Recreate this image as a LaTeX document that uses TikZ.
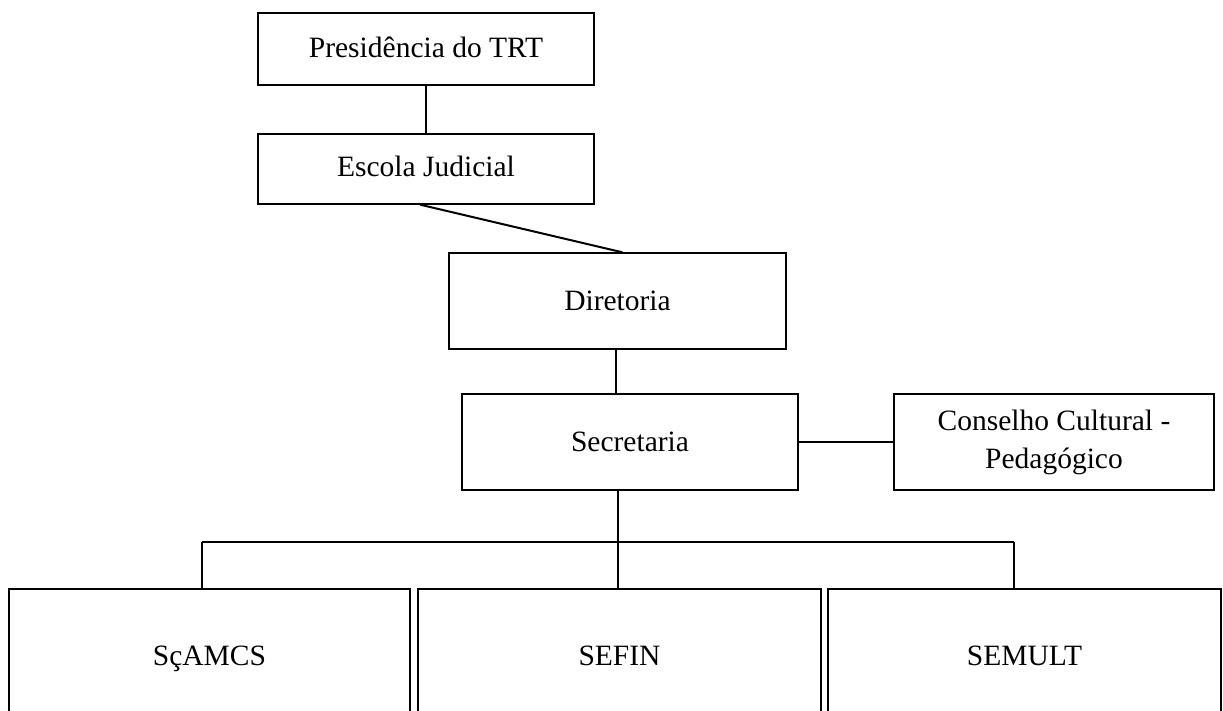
\documentclass[tikz,border=0pt]{standalone}
\usepackage{fontspec}
\setmainfont{Liberation Serif}
\usetikzlibrary{calc}
\begin{document}
\begin{tikzpicture}[x=1pt,y=-1pt,
  box/.style={draw, line width=1.3pt, inner sep=0pt, align=center, font=\fontsize{29.5}{38}\selectfont},
  conn/.style={line width=2pt}]
\useasboundingbox[fill=white] (0,0) rectangle (1223,711);
\node[box, minimum width=336, minimum height=72] (pres) at (426,49) {\raisebox{4pt}{Presidência do TRT}};
\node[box, minimum width=336, minimum height=70] (esc) at (426,169) {\raisebox{5pt}{Escola Judicial}};
\node[box, minimum width=337, minimum height=96] (dir) at (617.5,301) {Diretoria};
\node[box, minimum width=336, minimum height=96] (sec) at (630,442) {Secretaria};
\node[box, minimum width=320, minimum height=96] (cons) at (1054,442) {Conselho Cultural -\\Pedagógico};
\node[box, minimum width=401, minimum height=140] (sca) at (209.5,659) {\raisebox{7pt}{SçAMCS}};
\node[box, minimum width=403, minimum height=140] (sefin) at (619.5,659) {\raisebox{7pt}{SEFIN}};
\node[box, minimum width=393, minimum height=140] (semult) at (1024.5,659) {\raisebox{7pt}{SEMULT}};
\draw[conn] (pres.south) -- (esc.north);
\draw[conn] ($(esc.south)+(-6,0)$) -- ($(dir.north)+(5,0)$);
\coordinate (d1) at ($(dir.south)+(-2,0)$);
\draw[conn] (d1) -- (d1 |- sec.north);
\draw[conn] (sec.east) -- (cons.west);
\coordinate (s1) at ($(sefin.north)+(-2,0)$);
\draw[conn] (s1 |- sec.south) -- (s1);
\coordinate (busL) at (202,542);
\coordinate (busR) at (1014,542);
\draw[conn] (busL) -- (busR);
\draw[conn] (busL) -- (busL |- sca.north);
\draw[conn] (busR) -- (busR |- semult.north);
\end{tikzpicture}
\end{document}
